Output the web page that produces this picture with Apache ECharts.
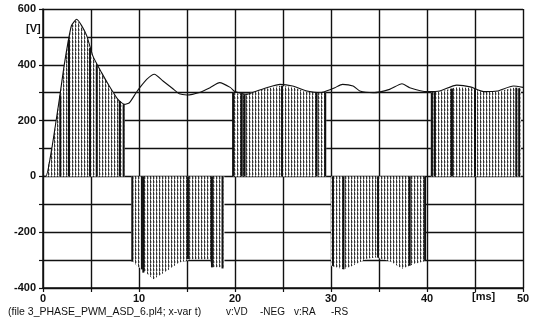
<!DOCTYPE html>
<html>
<head>
<meta charset="utf-8">
<script src="https://cdn.jsdelivr.net/npm/echarts@6/dist/echarts.min.js"></script>
<style>
  html, body { margin: 0; padding: 0; background: #fff; }
  #chart { width: 536px; height: 328px; }
</style>
</head>
<body>
<div id="chart"></div>
<script>
// v:VD -NEG  (dc link voltage), time in ms
var vdT = [0, 0.3, 0.9, 1.75, 2.25, 2.95, 3.5, 4.5, 5.2, 6.1, 6.9, 7.8, 8.5, 9.0, 9.7, 10.1, 10.8, 11.6, 12.5, 13.5, 14.2, 15.0, 16.3, 17.4, 18.4, 19.5, 20.0, 21.2, 22.2, 23.3, 24.7, 26.0, 27.5, 28.9, 29.5, 30.4, 31.2, 32.3, 33.0, 34.4, 36.1, 37.4, 38.2, 40.0, 41.3, 43.1, 44.5, 45.9, 47.3, 49.0, 50];
var vdV = [0, 0, 97, 288, 408, 539, 563, 509, 431, 372, 324, 276, 258, 264, 300, 319, 348, 366, 342, 315, 296, 292, 301, 318, 336, 319, 304, 294, 305, 318, 330, 324, 306, 300, 306, 318, 330, 324, 306, 300, 312, 332, 318, 304, 306, 327, 321, 304, 306, 324, 319];

// v:RA -RS  envelope of the PWM pulse blocks
var raT = [0.3, 0.9, 1.75, 2.25, 2.95, 3.5, 4.5, 5.2, 6.1, 6.9, 7.8, 8.5, 8.5,
           9.2, 9.2, 9.8, 10.3, 11.5, 12.9, 14.2, 15.5, 17.4, 17.6, 18.9, 18.9,
           19.8, 19.8, 21.0, 23.0, 24.7, 26.0, 27.5, 29.5, 29.5,
           30.0, 30.0, 31.3, 32.2, 33.7, 34.7, 36.1, 37.4, 38.6, 39.8, 39.8,
           40.4, 40.4, 41.3, 43.1, 44.5, 45.9, 47.3, 49.0, 49.8, 49.8];
var raV = [0, 97, 288, 408, 539, 563, 509, 431, 372, 324, 276, 258, 0,
           0, -300, -321, -333, -369, -339, -309, -297, -297, -326, -326, 0,
           0, 300, 294, 312, 325, 320, 302, 300, 0,
           0, -321, -333, -321, -295, -291, -303, -331, -315, -303, 0,
           0, 300, 303, 320, 318, 302, 303, 318, 315, 0];

// darker single pulses
var pulseT = [1.8, 2.7, 4.9, 5.6, 8.0, 8.4, 9.3, 10.3, 10.45, 15.1, 17.6, 18.7,
              19.8, 20.7, 21.0, 24.9, 28.5, 29.4, 30.2, 31.3, 34.9, 38.2, 39.8,
              40.5, 40.8, 42.6, 45.0, 49.3, 49.6];
var pulseV = [290, 490, 460, 400, 270, 258, -305, -333, -345, -297, -326, -330,
              300, 296, 294, 325, 300, 300, -321, -333, -291, -320, -303,
              300, 302, 315, 312, 318, 316];

function pairs(a, b) {
  return a.map(function (x, i) { return [x, b[i]]; });
}

// hatch pattern for the pulse area
var hatch = document.createElement('canvas');
hatch.width = 3; hatch.height = 4;
var hc = hatch.getContext('2d');
hc.fillStyle = '#fff';
hc.fillRect(0, 0, 3, 4);
hc.fillStyle = '#333';
hc.fillRect(0, 0, 1, 3);
hc.fillStyle = '#888';
hc.fillRect(0, 3, 1, 1);
hc.fillStyle = '#bbb';
hc.fillRect(1, 1, 1, 2);

var myChart = echarts.init(document.getElementById('chart'));
var font = 'Liberation Sans';
var capFont = '10px ' + font;

var option = {
  backgroundColor: '#fff',
  animation: false,
  grid: { left: 43, right: 13, top: 9, bottom: 40 },
  xAxis: {
    type: 'value', min: 0, max: 50, interval: 5,
    axisLine: { onZero: false, lineStyle: { color: '#111', width: 1.5 } },
    axisTick: { inside: false, length: 4, lineStyle: { color: '#111', width: 1.2 } },
    axisLabel: {
      margin: 5, color: '#111', fontFamily: font, fontWeight: 'bold', fontSize: 11,
      formatter: function (v) { return v % 10 === 0 ? v : ''; }
    },
    splitLine: { lineStyle: { color: '#111', width: 1.4 } }
  },
  yAxis: {
    type: 'value', min: -400, max: 600, interval: 100,
    axisLine: { lineStyle: { color: '#111', width: 1.5 } },
    axisTick: { length: 4, lineStyle: { color: '#111', width: 1.2 } },
    axisLabel: {
      margin: 7, color: '#111', fontFamily: font, fontWeight: 'bold', fontSize: 11,
      formatter: function (v) { return v % 200 === 0 ? v : ''; }
    },
    splitLine: { lineStyle: { color: '#111', width: 1.4 } }
  },
  series: [
    {
      name: 'v:RA -RS', type: 'line', data: pairs(raT, raV),
      symbol: 'none', lineStyle: { width: 0 },
      areaStyle: { color: { image: hatch, repeat: 'repeat' }, opacity: 1 },
      z: 2
    },
    {
      name: 'pulses', type: 'bar', data: pairs(pulseT, pulseV),
      barWidth: 2, itemStyle: { color: '#111' }, z: 3
    },
    {
      name: 'v:VD -NEG', type: 'line', data: pairs(vdT, vdV),
      symbol: 'none', smooth: 0.2, lineStyle: { color: '#111', width: 1.1 }, z: 4
    }
  ],
  graphic: [
    { type: 'text', left: 26, top: 23, style: { text: '[V]', font: 'bold 11px ' + font, fill: '#111' } },
    { type: 'text', left: 472, top: 291, style: { text: '[ms]', font: 'bold 11px ' + font, fill: '#111' } },
    { type: 'text', left: 8, top: 307, style: { text: '(file 3_PHASE_PWM_ASD_6.pl4; x-var t)', font: '10.5px ' + font, fill: '#111' } },
    { type: 'text', left: 226, top: 307, style: { text: 'v:VD', font: capFont, fill: '#111' } },
    { type: 'text', left: 260, top: 307, style: { text: '-NEG', font: capFont, fill: '#111' } },
    { type: 'text', left: 294, top: 307, style: { text: 'v:RA', font: capFont, fill: '#111' } },
    { type: 'text', left: 331, top: 307, style: { text: '-RS', font: capFont, fill: '#111' } }
  ]
};

myChart.setOption(option);
</script>
</body>
</html>
